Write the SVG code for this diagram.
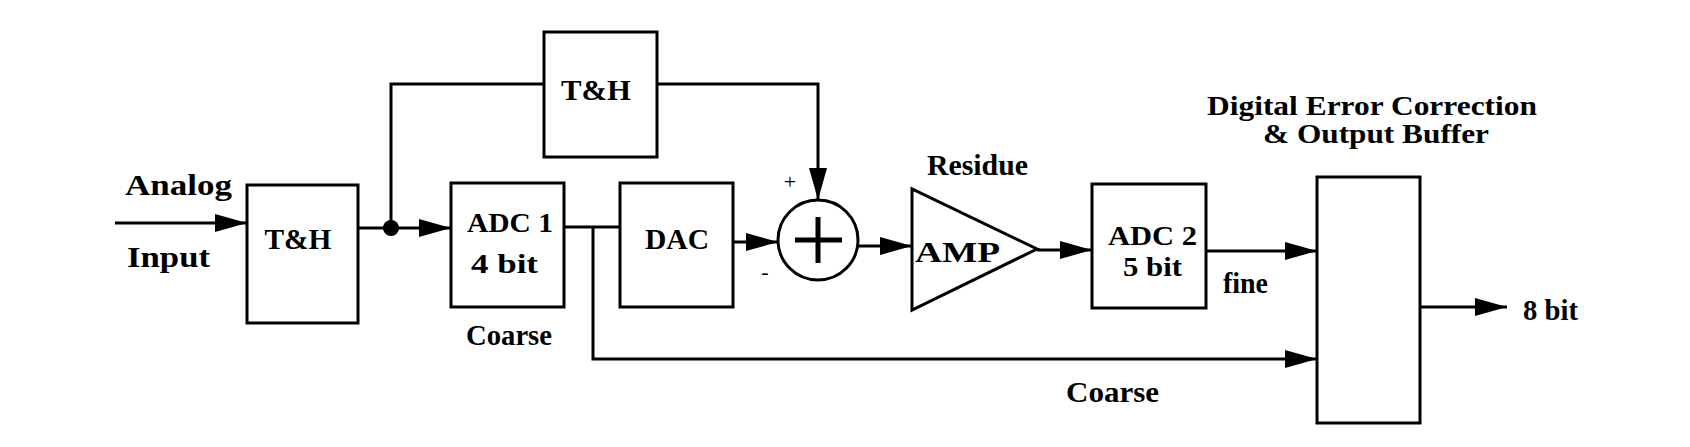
<svg xmlns="http://www.w3.org/2000/svg" width="1690" height="447" viewBox="0 0 1690 447">
<style>
.box{fill:none;stroke:#000;stroke-width:3}
.ln{fill:none;stroke:#000;stroke-width:3}
.t{font-family:"Liberation Serif","Times New Roman",serif;font-weight:bold;font-size:30px;fill:#000}
.st{font-size:27px}
.s{font-family:"Liberation Serif","Times New Roman",serif;font-size:22px;fill:#000}
</style>
<defs>
<marker id="ah" markerUnits="userSpaceOnUse" markerWidth="34" markerHeight="20" refX="32" refY="9" orient="auto">
<path d="M0,0 L32,9 L0,18 z" fill="#000"/>
</marker>
</defs>
<rect width="1690" height="447" fill="#fff"/>
<g id="connectors">
<line class="ln" x1="115" y1="223" x2="247" y2="223" marker-end="url(#ah)"/>
<line class="ln" x1="358" y1="228" x2="451" y2="228" marker-end="url(#ah)"/>
<circle cx="391" cy="228" r="8" fill="#000"/>
<polyline class="ln" points="391,228 391,84 544,84"/>
<polyline class="ln" points="657,84 818,84 818,200" marker-end="url(#ah)"/>
<line class="ln" x1="564" y1="227" x2="620" y2="227"/>
<polyline class="ln" points="593,227 593,359 1317,359" marker-end="url(#ah)"/>
<line class="ln" x1="733" y1="242" x2="778" y2="242" marker-end="url(#ah)"/>
<line class="ln" x1="858" y1="246" x2="912" y2="246" marker-end="url(#ah)"/>
<line class="ln" x1="1037" y1="250" x2="1092" y2="250" marker-end="url(#ah)"/>
<line class="ln" x1="1206" y1="251" x2="1317" y2="251" marker-end="url(#ah)"/>
<line class="ln" x1="1420" y1="307" x2="1507" y2="307" marker-end="url(#ah)"/>
</g>
<g id="input-label">
<text class="t" x="125" y="195" textLength="107" lengthAdjust="spacingAndGlyphs">Analog</text>
<text class="t" x="127" y="267" textLength="83" lengthAdjust="spacingAndGlyphs">Input</text>
</g>
<g id="th1">
<rect class="box" x="247" y="185" width="111" height="138"/>
<text class="t" x="298" y="249" text-anchor="middle" textLength="67" lengthAdjust="spacingAndGlyphs">T&amp;H</text>
</g>
<g id="th2">
<rect class="box" x="544" y="32" width="113" height="125"/>
<text class="t" x="596" y="100" text-anchor="middle" textLength="70" lengthAdjust="spacingAndGlyphs">T&amp;H</text>
</g>
<g id="adc1">
<rect class="box" x="451" y="183" width="113" height="124"/>
<text class="t st" x="467" y="232" textLength="86" lengthAdjust="spacingAndGlyphs">ADC 1</text>
<text class="t st" x="471" y="273" textLength="67" lengthAdjust="spacingAndGlyphs">4 bit</text>
<text class="t" x="466" y="345" textLength="86" lengthAdjust="spacingAndGlyphs">Coarse</text>
</g>
<g id="dac">
<rect class="box" x="620" y="183" width="113" height="124"/>
<text class="t" x="645" y="249" textLength="64" lengthAdjust="spacingAndGlyphs">DAC</text>
</g>
<g id="sum">
<circle cx="818" cy="240" r="40" fill="none" stroke="#000" stroke-width="3"/>
<line x1="795" y1="240" x2="842" y2="240" stroke="#000" stroke-width="5"/>
<line x1="818" y1="217" x2="818" y2="263" stroke="#000" stroke-width="5"/>
<text class="s" x="790" y="189" text-anchor="middle">+</text>
<text class="s" x="765" y="279" text-anchor="middle">-</text>
</g>
<g id="amp">
<polygon points="912,189 912,310 1037,249" fill="none" stroke="#000" stroke-width="3"/>
<text class="t" x="915" y="262" textLength="85" lengthAdjust="spacingAndGlyphs">AMP</text>
<text class="t" x="927" y="175" textLength="101" lengthAdjust="spacingAndGlyphs">Residue</text>
</g>
<g id="adc2">
<rect class="box" x="1092" y="184" width="114" height="124"/>
<text class="t st" x="1108" y="245" textLength="89" lengthAdjust="spacingAndGlyphs">ADC 2</text>
<text class="t st" x="1123" y="276" textLength="59" lengthAdjust="spacingAndGlyphs">5 bit</text>
<text class="t" x="1223" y="293" textLength="45" lengthAdjust="spacingAndGlyphs">fine</text>
</g>
<g id="dec">
<rect class="box" x="1317" y="177" width="103" height="246"/>
<text class="t st" x="1207" y="115" textLength="330" lengthAdjust="spacingAndGlyphs">Digital Error Correction</text>
<text class="t st" x="1263" y="143" textLength="226" lengthAdjust="spacingAndGlyphs">&amp; Output Buffer</text>
</g>
<g id="labels">
<text class="t" x="1523" y="320" textLength="55" lengthAdjust="spacingAndGlyphs">8 bit</text>
<text class="t" x="1066" y="402" textLength="93" lengthAdjust="spacingAndGlyphs">Coarse</text>
</g>
</svg>
